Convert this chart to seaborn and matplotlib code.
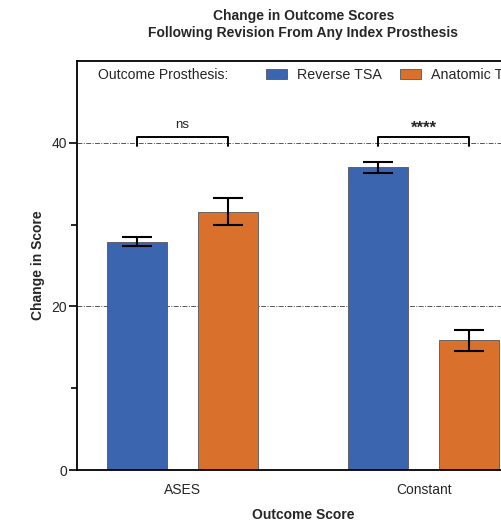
import matplotlib
matplotlib.use("Agg")
import matplotlib.pyplot as plt
import matplotlib.patches as mpatches
import seaborn as sns
import pandas as pd
import numpy as np

# Data: mean change in score and standard error per outcome measure
scores = ["ASES", "Constant"]
prostheses = ["Reverse TSA", "Anatomic TSA"]
reverse_mean = [27.9, 37.0]
reverse_err = [0.55, 0.7]
anatomic_mean = [31.6, 15.85]
anatomic_err = [1.6, 1.25]
significance = ["ns", "****"]
yticks = [0, 20, 40]

colors = {"Reverse TSA": "#3C65B0", "Anatomic TSA": "#D9702B"}

df = pd.DataFrame({
    "Outcome Score": scores * 2,
    "Prosthesis": [prostheses[0]] * 2 + [prostheses[1]] * 2,
    "Change": reverse_mean + anatomic_mean,
    "Err": reverse_err + anatomic_err,
})

sns.set_theme(style="white")
plt.rcParams["font.family"] = ["Liberation Sans", "DejaVu Sans"]

W, H = 502, 522
fig = plt.figure(figsize=(W / 100, H / 100), dpi=100)
left, right, top, bottom = 77, 529.5, 61, 470
ax = fig.add_axes([left / W, 1 - bottom / H, (right - left) / W, (bottom - top) / H])

sns.barplot(data=df, x="Outcome Score", y="Change", hue="Prosthesis",
            order=scores, hue_order=prostheses, palette=colors, saturation=1,
            width=0.755, gap=0.34, errorbar=None, edgecolor="#555555",
            linewidth=0.6, legend=False, ax=ax)

# error bars at the centre of each drawn bar
centers = {}
for container, p in zip(ax.containers, prostheses):
    sub = df[df["Prosthesis"] == p].set_index("Outcome Score").loc[scores]
    xs = [b.get_x() + b.get_width() / 2 for b in container]
    centers[p] = xs
    ax.errorbar(xs, sub["Change"], yerr=sub["Err"], fmt="none",
                ecolor="black", elinewidth=1.5, capsize=11, capthick=1.5, zorder=4)

# significance brackets
for i, label in enumerate(significance):
    x1, x2 = centers[prostheses[0]][i], centers[prostheses[1]][i]
    yb, yt = 39.6, 40.7
    ax.plot([x1, x1, x2, x2], [yb, yt, yt, yb], color="black", lw=1.4, zorder=5)
    if label == "ns":
        ax.text((x1 + x2) / 2, yt + 0.7, label, ha="center", va="bottom", fontsize=9.5)
    else:
        ax.text((x1 + x2) / 2, yt + 0.1, label, ha="center", va="bottom",
                fontsize=12, fontweight="bold")

ax.set_xlim(-0.438, 1.438)
ax.set_ylim(0, 50)
ax.set_yticks(yticks)
ax.set_yticks([10, 30], minor=True)
ax.tick_params(axis="y", which="major", length=6, width=1.2, color="black",
               labelsize=10, pad=1, left=True)
ax.tick_params(axis="y", which="minor", length=4, width=1.2, color="black", left=True)
ax.tick_params(axis="x", length=0, labelsize=10, pad=9)

for y in yticks[1:]:
    ax.axhline(y, color="#555555", lw=0.7, ls=(0, (5, 1.5, 1, 1.5)), zorder=0.5)

for side in ["left", "bottom", "top"]:
    ax.spines[side].set_visible(True)
    ax.spines[side].set_color("black")
    ax.spines[side].set_linewidth(1.3)
ax.spines["right"].set_visible(False)

ax.set_ylabel("Change in Score", fontsize=10, fontweight="bold", labelpad=5)
ax.set_xlabel("Outcome Score", fontsize=10, fontweight="bold", labelpad=8)
ax.set_title("Change in Outcome Scores\nFollowing Revision From Any Index Prosthesis",
             fontsize=10, fontweight="bold", pad=17, linespacing=1.3)

# legend row across the top of the plot area
fig.text(98 / W, 1 - 75 / H, "Outcome Prosthesis:", fontsize=10.1, va="center", ha="left")
handles = [mpatches.Patch(facecolor=colors[p], edgecolor="#555555", lw=0.6) for p in prostheses]
leg = fig.legend(handles, prostheses, loc="center left", ncol=2, frameon=False,
                 bbox_to_anchor=(266 / W, 1 - 75 / H), borderpad=0, borderaxespad=0,
                 handlelength=1.45, handleheight=0.75, handletextpad=0.7,
                 columnspacing=1.3, fontsize=10.3)

fig.savefig("out.png", dpi=100)
